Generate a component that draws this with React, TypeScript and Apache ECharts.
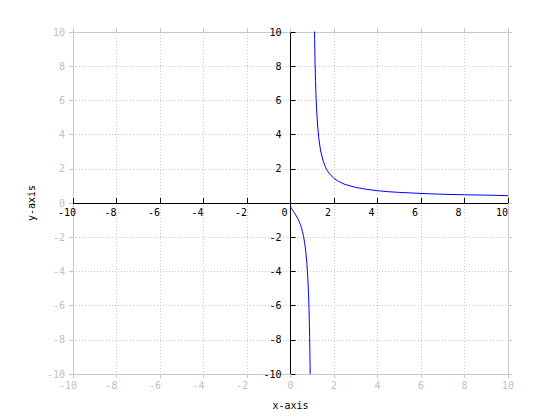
import React, { useEffect, useRef } from "react";
import * as echarts from "echarts";

// Axis ticks
const xTickMin = -10;
const xTickMax = 10;
const yTickMin = -10;
const yTickMax = 10;
const tickStep = 2;

// Branch for 0 < x < 1
const lowerX = [0.001, 0.005, 0.01, 0.02, 0.05, 0.1, 0.15, 0.2, 0.25, 0.3, 0.35, 0.4, 0.45, 0.5, 0.55, 0.6, 0.65, 0.7, 0.75, 0.8, 0.83, 0.85, 0.87, 0.88, 0.89, 0.9, 0.905];
const lowerY = [-0.14, -0.19, -0.22, -0.26, -0.33, -0.43, -0.53, -0.62, -0.72, -0.83, -0.95, -1.09, -1.25, -1.44, -1.67, -1.96, -2.32, -2.8, -3.48, -4.48, -5.37, -6.15, -7.18, -7.82, -8.58, -9.49, -10.02];

// Branch for x > 1
const upperX = [1.1, 1.105, 1.11, 1.12, 1.13, 1.15, 1.17, 1.2, 1.25, 1.3, 1.35, 1.4, 1.5, 1.6, 1.7, 1.8, 2, 2.2, 2.5, 3, 3.5, 4, 4.5, 5, 6, 7, 8, 9, 10];
const upperY = [10.49, 10.02, 9.58, 8.82, 8.18, 7.16, 6.37, 5.48, 4.48, 3.81, 3.33, 2.97, 2.47, 2.13, 1.88, 1.7, 1.44, 1.27, 1.09, 0.91, 0.8, 0.72, 0.66, 0.62, 0.56, 0.51, 0.48, 0.46, 0.43];

const FONT = "DejaVu Sans Mono";
const GRAY = "#c8c8c8";
const GRAY_TEXT = "#c0c0c0";

const W = 560;
const H = 420;
const G_LEFT = 73;
const G_RIGHT = 52;
const G_TOP = 32;
const G_BOTTOM = 46;

export default function App() {
  const ref = useRef<HTMLDivElement>(null);
  useEffect(() => {
    if (!ref.current) return;
    const chart = echarts.init(ref.current, undefined, { renderer: "svg" });
    const gridPos = { left: G_LEFT, right: G_RIGHT, top: G_TOP, bottom: G_BOTTOM, containLabel: false };
    const gridW = W - G_LEFT - G_RIGHT;
    const gridH = H - G_TOP - G_BOTTOM;
    // offsets placing the black axes at the data zero (the middle of the symmetric ranges)
    const xZeroOffset = -gridH * (0 - yTickMin) / (yTickMax - yTickMin);
    const yZeroOffset = -gridW * (0 - xTickMin) / (xTickMax - xTickMin);
    const grayLabel = (v: number) => (v < 0 ? `{n|${v}}` : `{p|${v}}`);
    const grayRich = {
      n: { fontFamily: FONT, fontSize: 10, color: GRAY_TEXT, padding: [0, 10, 0, 0] },
      p: { fontFamily: FONT, fontSize: 10, color: GRAY_TEXT },
    };
    chart.setOption({
      animation: false,
      backgroundColor: "#ffffff",
      grid: [gridPos, { ...gridPos }],
      xAxis: [
        {
          gridIndex: 0,
          type: "value",
          position: "bottom",
          min: xTickMin,
          max: xTickMax,
          interval: tickStep,
          name: "x-axis",
          nameLocation: "middle",
          nameGap: 26,
          nameTextStyle: { fontFamily: FONT, fontSize: 10, color: "#000" },
          axisLine: { show: true, onZero: false, lineStyle: { color: GRAY, width: 1 } },
          axisTick: { show: true, inside: false, length: 4, lineStyle: { color: GRAY } },
          axisLabel: { margin: 6, formatter: grayLabel, rich: grayRich, fontFamily: FONT, fontSize: 10, color: GRAY_TEXT },
          splitLine: { show: true, lineStyle: { color: GRAY, type: [1, 2], width: 1 } },
        },
        {
          gridIndex: 0,
          type: "value",
          position: "top",
          min: xTickMin,
          max: xTickMax,
          interval: tickStep,
          axisLine: { show: true, onZero: false, lineStyle: { color: GRAY, width: 1 } },
          axisTick: { show: true, inside: false, length: 4, lineStyle: { color: GRAY } },
          axisLabel: { show: false },
          splitLine: { show: false },
        },
        {
          gridIndex: 1,
          type: "value",
          position: "bottom",
          offset: xZeroOffset,
          min: xTickMin,
          max: xTickMax,
          interval: tickStep,
          axisLine: { show: true, onZero: false, lineStyle: { color: "#000", width: 1 } },
          axisTick: { show: true, inside: true, length: 5, lineStyle: { color: "#000" } },
          axisLabel: { margin: 4, fontFamily: FONT, fontSize: 10, color: "#000", padding: [0, 12, 0, 0] },
          splitLine: { show: false },
        },
      ],
      yAxis: [
        {
          gridIndex: 0,
          type: "value",
          position: "left",
          min: yTickMin,
          max: yTickMax,
          interval: tickStep,
          name: "y-axis",
          nameLocation: "middle",
          nameGap: 30,
          nameTextStyle: { fontFamily: FONT, fontSize: 10, color: "#000" },
          axisLine: { show: true, onZero: false, lineStyle: { color: GRAY, width: 1 } },
          axisTick: { show: true, inside: false, length: 4, lineStyle: { color: GRAY } },
          axisLabel: { margin: 8, fontFamily: FONT, fontSize: 10, color: GRAY_TEXT },
          splitLine: { show: true, lineStyle: { color: GRAY, type: [1, 2], width: 1 } },
        },
        {
          gridIndex: 0,
          type: "value",
          position: "right",
          min: yTickMin,
          max: yTickMax,
          interval: tickStep,
          axisLine: { show: true, onZero: false, lineStyle: { color: GRAY, width: 1 } },
          axisTick: { show: true, inside: false, length: 4, lineStyle: { color: GRAY } },
          axisLabel: { show: false },
          splitLine: { show: false },
        },
        {
          gridIndex: 1,
          type: "value",
          position: "left",
          offset: yZeroOffset,
          min: yTickMin,
          max: yTickMax,
          interval: tickStep,
          axisLine: { show: true, onZero: false, lineStyle: { color: "#000", width: 1 } },
          axisTick: { show: true, inside: true, length: 5, lineStyle: { color: "#000" } },
          axisLabel: {
            margin: 9,
            fontFamily: FONT,
            fontSize: 10,
            color: "#000",
            formatter: (v: number) => (v === 0 ? "" : String(v)),
          },
          splitLine: { show: false },
        },
      ],
      series: [
        {
          type: "line",
          xAxisIndex: 2,
          yAxisIndex: 2,
          data: lowerX.map((x, i) => [x, lowerY[i]]),
          showSymbol: false,
          symbol: "none",
          clip: true,
          lineStyle: { color: "#0000ff", width: 1 },
          z: 5,
        },
        {
          type: "line",
          xAxisIndex: 2,
          yAxisIndex: 2,
          data: upperX.map((x, i) => [x, upperY[i]]),
          showSymbol: false,
          symbol: "none",
          clip: true,
          lineStyle: { color: "#0000ff", width: 1 },
          z: 5,
        },
      ],
    });
    return () => chart.dispose();
  }, []);
  return (
    <div
      ref={ref}
      style={{ position: "fixed", left: 0, top: 0, width: W, height: H, background: "#fff" }}
    />
  );
}
